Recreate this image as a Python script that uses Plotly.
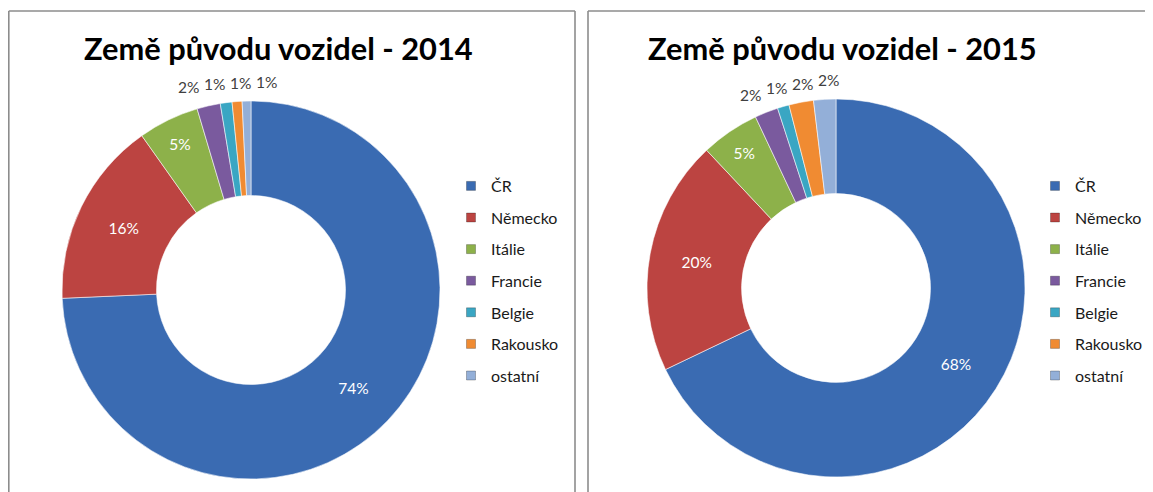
import math
import plotly.graph_objects as go

categories = ["ČR", "Německo", "Itálie", "Francie", "Belgie", "Rakousko", "ostatní"]
values_2014 = [74.3, 15.9, 5.2, 2.0, 1.0, 0.85, 0.75]
values_2015 = [67.9, 20.1, 5.0, 2.0, 1.0, 2.1, 1.9]
titles = ["Země původu vozidel - 2014", "Země původu vozidel - 2015"]
colors = ["#3A6BB2", "#BC4441", "#8DB14A", "#7A5A9E", "#3AA6C3", "#F08B32", "#93AFD8"]
inside_2014 = [True, True, True, False, False, False, False]
inside_2015 = [True, True, True, False, False, False, False]

W, H = 1153, 492
OFF = 8  # page body margin of the browser
FONT = "Lato"


def px(x):
    return (x - OFF) / W


def py(y):
    return 1 - (y - OFF) / H


fig = go.Figure()
annotations = []

pies = [
    (values_2014, inside_2014, (251, 290, 189)),
    (values_2015, inside_2015, (836, 288, 189)),
]
for vals, inside, (cx, cy, r) in pies:
    fig.add_trace(go.Pie(
        labels=categories,
        values=vals,
        hole=0.5,
        sort=False,
        direction="clockwise",
        rotation=0,
        marker=dict(colors=colors, line=dict(color="rgba(255,255,255,0.55)", width=1)),
        texttemplate="%{percent:.0%}",
        textposition=["inside" if f else "none" for f in inside],
        insidetextorientation="horizontal",
        insidetextfont=dict(family=FONT, size=15.5, color="white"),
        showlegend=False,
        domain=dict(x=[px(cx - r), px(cx + r)], y=[py(cy + r), py(cy - r)]),
        hoverinfo="label+percent",
    ))

    # outside labels for the thin slices: placed at the mid-angle of each slice,
    # then spread sideways so they don't collide
    total = sum(vals)
    cum = 0.0
    outs = []
    for v, f in zip(vals, inside):
        mid = (cum + v / 2) / total * 2 * math.pi
        cum += v
        if f:
            continue
        R = r + 19
        outs.append([cx + R * math.sin(mid), cy - R * math.cos(mid),
                     f"{round(v / total * 100)}%"])
    gap = 26
    n = len(outs)
    xs = [o[0] for o in outs]
    for k in range(1, n):
        if xs[k] - xs[k - 1] < gap:
            xs[k] = xs[k - 1] + gap
    shift = (sum(o[0] for o in outs) - sum(xs)) / n
    xs = [x + shift for x in xs]
    for o, x in zip(outs, xs):
        annotations.append(dict(text=o[2], x=px(x), y=py(o[1]), xref="paper", yref="paper",
                                showarrow=False, xanchor="center", yanchor="middle",
                                font=dict(family=FONT, size=15.5, color="#404040")))

# legends: one per panel, built from the categories
for li, (lname, ax) in enumerate([("legend", "x"), ("legend2", "x2")]):
    for i, cat in enumerate(categories):
        fig.add_trace(go.Scatter(
            x=[None], y=[None], mode="markers", name=cat,
            marker=dict(symbol="square", size=9, color=colors[i],
                        line=dict(color="rgba(0,0,0,0.25)", width=1)),
            legend=lname, legendgroup=f"{lname}_{i}",
            xaxis=ax, yaxis="y" if li == 0 else "y2",
            showlegend=True, hoverinfo="skip",
        ))

legend_common = dict(
    font=dict(family=FONT, size=16, color="#1a1a1a"),
    tracegroupgap=7.8,
    bgcolor="rgba(0,0,0,0)",
    xanchor="left", yanchor="top",
    itemclick=False, itemdoubleclick=False,
)

shapes = []
line_style = dict(color="#8C8C8C", width=1.6)
for (x0, y0, x1, y1) in [(8.8, 11, 8.8, H + 20), (8.8, 11, 575, 11), (575, 11, 575, H + 20),
                         (588, 11, 588, H + 20), (588, 11, W + 20, 11)]:
    shapes.append(dict(type="line", xref="paper", yref="paper",
                       x0=px(x0), y0=py(y0), x1=px(x1), y1=py(y1), line=line_style))

for t, tx in zip(titles, [278, 843]):
    annotations.append(dict(text=f"<b>{t}</b>", x=px(tx), y=py(48), xref="paper", yref="paper",
                            showarrow=False, font=dict(family=FONT, size=30.8, color="black"),
                            xanchor="center", yanchor="middle"))

fig.update_layout(
    width=W, height=H,
    margin=dict(l=0, r=0, t=0, b=0),
    paper_bgcolor="white", plot_bgcolor="rgba(0,0,0,0)",
    showlegend=True,
    legend=dict(x=px(451), y=py(169), **legend_common),
    legend2=dict(x=px(1035), y=py(169), **legend_common),
    xaxis=dict(visible=False, domain=[0, 0.01]), yaxis=dict(visible=False, domain=[0, 0.01]),
    xaxis2=dict(visible=False, domain=[0, 0.01]), yaxis2=dict(visible=False, domain=[0, 0.01]),
    shapes=shapes,
    annotations=annotations,
)

fig.write_html("out.html")
